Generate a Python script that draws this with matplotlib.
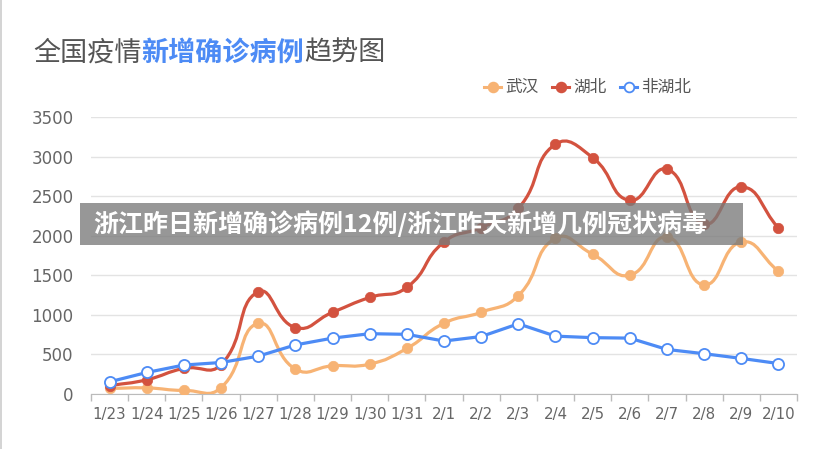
import numpy as np
import matplotlib
matplotlib.use("Agg")
import matplotlib.pyplot as plt
from matplotlib.path import Path
from matplotlib.patches import PathPatch, Rectangle

plt.rcParams['font.family'] = ['Noto Sans CJK SC', 'DejaVu Sans']

# data
dates = ['1/23', '1/24', '1/25', '1/26', '1/27', '1/28', '1/29', '1/30', '1/31', '2/1',
         '2/2', '2/3', '2/4', '2/5', '2/6', '2/7', '2/8', '2/9', '2/10']
wuhan = [70, 77, 46, 80, 892, 315, 356, 378, 576, 894,
         1033, 1242, 1967, 1766, 1501, 1985, 1379, 1920, 1552]
hubei = [105, 180, 323, 371, 1291, 840, 1032, 1220, 1347, 1921,
         2103, 2345, 3156, 2987, 2447, 2841, 2147, 2618, 2097]
non_hubei = [154, 272, 366, 398, 478, 620, 706, 762, 754, 669,
             726, 887, 731, 712, 706, 563, 509, 450, 385]
names = ['武汉', '湖北', '非湖北']

c_orange = '#f7b374'
c_red = '#d3523f'
c_blue = '#4d8bf5'

fig = plt.figure(figsize=(8.24, 4.49), dpi=100)
ax = fig.add_axes([91 / 824, 1 - 394 / 449, 706 / 824, 277 / 449])
ax.set_xlim(-0.5, len(dates) - 0.5)
ax.set_ylim(0, 3500)


def smooth_path(xs, ys, smooth=0.5):
    # echarts style bezier smoothing, worked out in pixel space
    pix = ax.transData.transform(np.column_stack([xs, ys]).astype(float))
    n = len(pix)
    cps = []
    for i in range(n):
        p = pix[i]
        prev = pix[max(i - 1, 0)]
        nxt = pix[min(i + 1, n - 1)]
        v = (nxt - prev) * smooth
        d0 = np.hypot(*(p - prev))
        d1 = np.hypot(*(p - nxt))
        tot = d0 + d1 if d0 + d1 > 0 else 1
        cps.append((p - v * d0 / tot, p + v * d1 / tot))
    verts = [pix[0]]
    codes = [Path.MOVETO]
    for i in range(n - 1):
        verts += [cps[i][1], cps[i + 1][0], pix[i + 1]]
        codes += [Path.CURVE4] * 3
    verts = ax.transData.inverted().transform(np.array(verts))
    return Path(verts, codes)


x = np.arange(len(dates))
for vals, col in [(wuhan, c_orange), (hubei, c_red)]:
    ax.add_patch(PathPatch(smooth_path(x, vals), fill=False, edgecolor=col,
                           lw=2.3, zorder=3, capstyle='round', joinstyle='round'))
    ax.plot(x, vals, ls='none', marker='o', ms=7.5, mfc=col, mec=col, mew=0.5, zorder=4)
ax.plot(x, non_hubei, color=c_blue, lw=2.3, marker='o', ms=8, mfc='white', mec=c_blue,
        mew=1.3, zorder=5, solid_joinstyle='round')

ax.set_yticks(range(0, 3501, 500))
ax.set_xticks(x)
ax.set_xticklabels(dates)
ax.set_xticks(np.arange(-0.5, len(dates), 1), minor=True)
ax.tick_params(axis='x', which='major', length=0, pad=9, labelsize=10.8, colors='#666666')
ax.tick_params(axis='x', which='minor', length=5, color='#bbbbbb', width=1)
ax.tick_params(axis='y', length=0, pad=12.5, labelsize=12, colors='#666666')
ax.grid(axis='y', color='#e3e3e3', lw=1)
ax.set_axisbelow(True)
for s in ['top', 'right', 'left']:
    ax.spines[s].set_visible(False)
ax.spines['bottom'].set_color('#bbbbbb')
for lab in ax.get_yticklabels() + ax.get_xticklabels():
    lab.set_family('DejaVu Sans')

# title
ty = 1 - 53 / 449
t1 = fig.text(33 / 824, ty, '全国疫情', fontsize=19.5, color='#555555', va='center')
fig.canvas.draw()
r = fig.canvas.get_renderer()
bb = t1.get_window_extent(r)
t2 = fig.text(bb.x1 / 824, ty, '新增确诊病例', fontsize=19.5, color='#4d8bf5',
              fontweight='bold', va='center')
bb2 = t2.get_window_extent(r)
fig.text(bb2.x1 / 824, ty, '趋势图', fontsize=19.5, color='#555555', va='center')

# legend
leg_y = 1 - 87 / 449
items = [(484, c_orange, c_orange, '武汉'), (552, c_red, c_red, '湖北'), (620, c_blue, 'white', '非湖北')]
for lx, col, face, lab in items:
    fig.add_artist(plt.Line2D([lx / 824, (lx + 17) / 824], [leg_y, leg_y], color=col, lw=2.2))
    fig.add_artist(plt.Line2D([(lx + 8.5) / 824], [leg_y], color=col, marker='o', ms=7,
                              mfc=face, mec=col, mew=1.3, ls='none'))
    fig.text((lx + 21) / 824, leg_y, lab, fontsize=12, color='#555555', va='center')

# banner
fig.add_artist(Rectangle((80 / 824, 1 - 245 / 449), 663 / 824, 42 / 449, transform=fig.transFigure,
                         facecolor='#7a7a7a', alpha=0.78, edgecolor='none', zorder=10))
fig.text(93 / 824, 1 - 224 / 449, '浙江昨日新增确诊病例12例/浙江昨天新增几例冠状病毒',
         fontsize=18, fontweight='heavy', color='white', va='center', zorder=11)

fig.add_artist(plt.Line2D([0.6 / 824, 0.6 / 824], [0, 1], color='#cccccc', lw=1.2))

fig.savefig('out.png', dpi=100)
